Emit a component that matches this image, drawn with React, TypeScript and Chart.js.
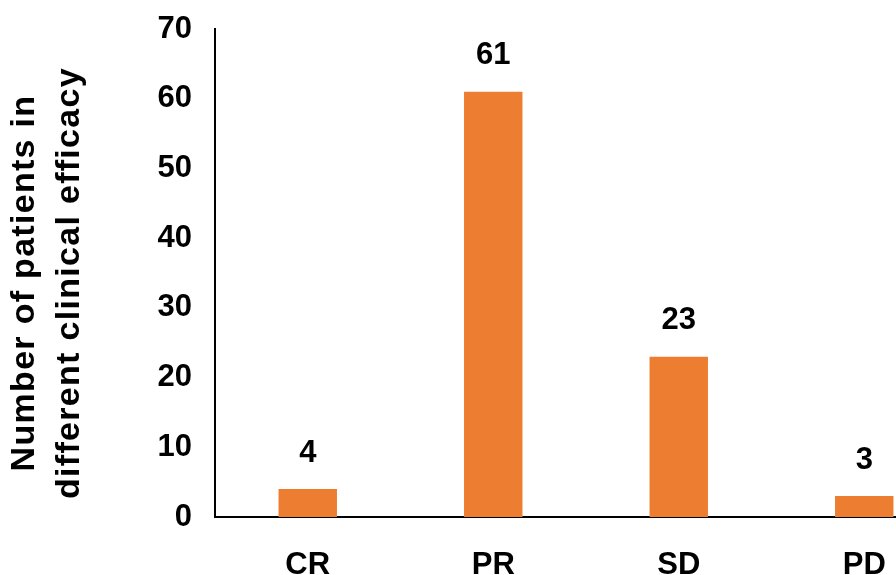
import { useEffect, useRef } from 'react';
import { Chart, registerables } from 'chart.js';

Chart.register(...registerables);

// Clinical efficacy categories and patient counts
const categories = ['CR', 'PR', 'SD', 'PD'];
const patientCounts = [4, 61, 23, 3];
const yAxisMin = 0;
const yAxisMax = 70;
const yAxisStep = 10;
const yTitleLines = ['Number of patients in', 'different clinical efficacy'];

const FONT_FAMILY = '"Liberation Sans", Arial, Helvetica, sans-serif';
const BAR_COLOR = '#ED7D31';
const TEXT_COLOR = '#000000';

// Writes each bar's value above it
const valueLabels = {
  id: 'valueLabels',
  afterDatasetsDraw(chart: any) {
    const { ctx } = chart;
    const meta = chart.getDatasetMeta(0);
    const values = chart.data.datasets[0].data as number[];
    ctx.save();
    ctx.font = `bold 31px ${FONT_FAMILY}`;
    ctx.fillStyle = TEXT_COLOR;
    ctx.textAlign = 'center';
    ctx.textBaseline = 'middle';
    meta.data.forEach((bar: any, i: number) => {
      ctx.fillText(String(values[i]), bar.x, bar.y - 36);
    });
    ctx.restore();
  },
};

// Two-line rotated title for the value axis
const yAxisTitle = {
  id: 'yAxisTitle',
  afterDraw(chart: any) {
    const { ctx } = chart;
    ctx.save();
    ctx.translate(25, 283);
    ctx.rotate(-Math.PI / 2);
    ctx.font = `bold 34px ${FONT_FAMILY}`;
    (ctx as any).letterSpacing = '1.3px';
    ctx.fillStyle = TEXT_COLOR;
    ctx.textAlign = 'center';
    ctx.textBaseline = 'middle';
    yTitleLines.forEach((line, i) => ctx.fillText(line, 0, i * 45));
    ctx.restore();
  },
};

export default function App() {
  const canvasRef = useRef<HTMLCanvasElement | null>(null);

  useEffect(() => {
    if (!canvasRef.current) return;
    const chart = new Chart(canvasRef.current, {
      type: 'bar',
      data: {
        labels: categories,
        datasets: [
          {
            data: patientCounts,
            backgroundColor: BAR_COLOR,
            borderWidth: 0,
            categoryPercentage: 1,
            barPercentage: 0.315,
          },
        ],
      },
      options: {
        animation: false,
        responsive: true,
        maintainAspectRatio: false,
        layout: { padding: { left: 0, right: 43, top: 29, bottom: 0 } },
        plugins: {
          legend: { display: false },
          tooltip: { enabled: false },
          title: { display: false },
        },
        scales: {
          x: {
            grid: { display: false, drawTicks: false },
            border: { display: true, color: '#000000', width: 2 },
            ticks: {
              color: TEXT_COLOR,
              padding: 30,
              font: { family: FONT_FAMILY, size: 31, weight: 'bold' },
            },
            afterFit(scale: any) {
              scale.height = 58;
              scale.paddingLeft = 0;
              scale.paddingRight = 0;
            },
          },
          y: {
            min: yAxisMin,
            max: yAxisMax,
            grid: { display: false, drawTicks: false },
            border: { display: true, color: '#000000', width: 2 },
            ticks: {
              stepSize: yAxisStep,
              color: TEXT_COLOR,
              padding: 23,
              font: { family: FONT_FAMILY, size: 31, weight: 'bold' },
            },
            afterFit(scale: any) {
              scale.width = 215;
              scale.paddingTop = 0;
              scale.paddingBottom = 0;
            },
          },
        },
      },
      plugins: [valueLabels, yAxisTitle],
    });
    return () => chart.destroy();
  }, []);

  return (
    <div
      style={{
        position: 'fixed',
        left: 0,
        top: 0,
        width: '1000px',
        height: '575px',
        background: '#ffffff',
      }}
    >
      <canvas ref={canvasRef} />
    </div>
  );
}
